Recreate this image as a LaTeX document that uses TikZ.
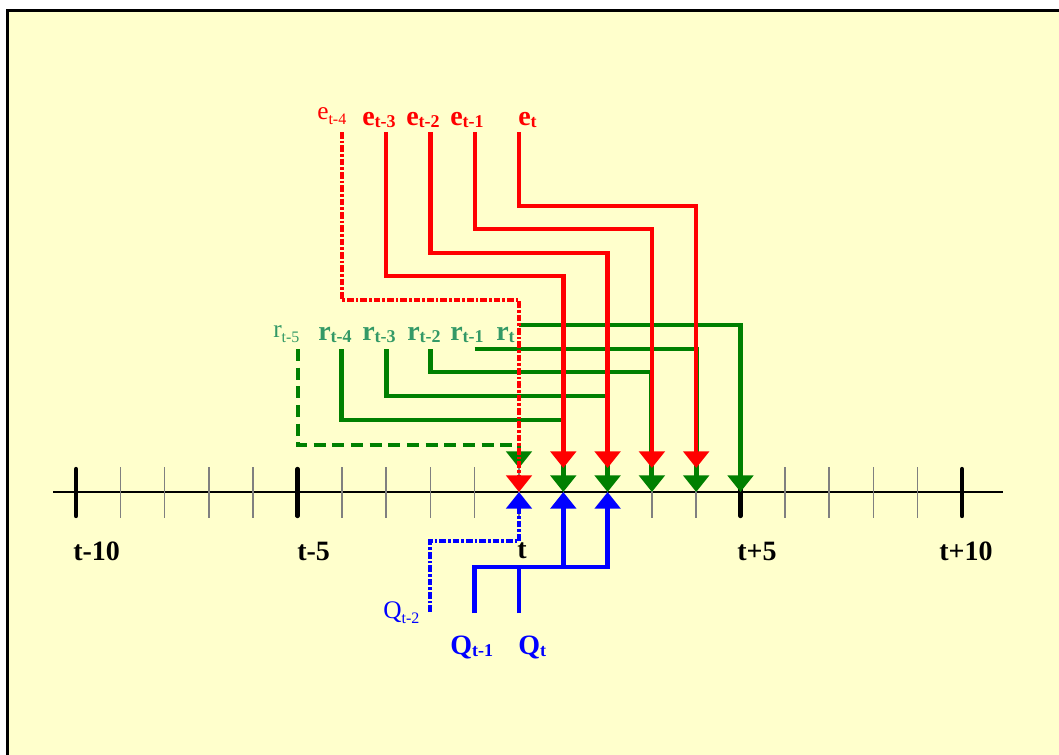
\documentclass[tikz,border=0pt]{standalone}
\usepackage{fontspec}
\setmainfont{Liberation Serif}
\usetikzlibrary{arrows.meta}

\definecolor{paper}{RGB}{255,255,204}
\definecolor{rlabel}{RGB}{51,153,102}
\definecolor{rline}{RGB}{0,128,0}

\newcommand\subbold[1]{\raisebox{-1.5pt}{\fontsize{13.5}{13.5}\selectfont #1}}
\newcommand\subthin[1]{\raisebox{-4pt}{\fontsize{12}{12}\selectfont #1}}

\tikzset{
  lab/.style={font=\bfseries\fontsize{21}{24}\selectfont, inner sep=0pt, anchor=base},
  labthin/.style={font=\fontsize{19}{22}\selectfont, inner sep=0pt, anchor=base west},
  redline/.style={draw=red, line width=3.3pt},
  greenline/.style={draw=rline, line width=3.7pt},
  blueline/.style={draw=blue, line width=3.7pt},
  dashdotline/.style={line width=3pt, dash pattern=on 5pt off 1.5pt on 2pt off 1.5pt},
  pointer/.style={-{Triangle[length=12.5pt,width=19pt]}},
}

\begin{document}
\begin{tikzpicture}[x=0.75pt,y=-0.75pt]
\useasboundingbox (0,0) rectangle (1059,754);
\clip (0,0) rectangle (1059,754);
\fill[white] (0,0) rectangle (1059,754);
\draw[line width=2.3pt,fill=paper] (7.5,10.5) rectangle (1080,780);

% time axis
\draw[line width=1.5pt] (53,492) -- (1003,492);
\foreach \k in {-9,...,9}
  \draw[gray, line width=1.1pt] ({519+44.3*\k},467) -- ({519+44.3*\k},518);
\foreach \k in {-10,-5,5,10}
  \draw[line width=3.3pt, line cap=round] ({519+44.3*\k},469) -- ({519+44.3*\k},516);
\foreach \k in {0,...,5} {
  \coordinate (a\k) at ({519+44.3*\k},492);
  \coordinate (u\k) at ({519+44.3*\k},468);
}
\node[lab, anchor=base west] (tm10) at (73,560) {t-10};
\node[lab, anchor=base west] (tm5) at (297,560) {t-5};
\node[lab] (t0) at (522,558) {t};
\node[lab, anchor=base west] (tp5) at (737,560) {t+5};
\node[lab, anchor=base west] (tp10) at (939,560) {t+10};

% labels
\node[labthin, red] (e4) at (317,119) {e\subthin{t-4}};
\node[lab, red, anchor=base west] (e3) at (362,125) {e\subbold{t-3}};
\node[lab, red, anchor=base west] (e2) at (406,125) {e\subbold{t-2}};
\node[lab, red, anchor=base west] (e1) at (450,125) {e\subbold{t-1}};
\node[lab, red, anchor=base west] (e0) at (518,125) {e\subbold{t}};

\node[labthin, rlabel] (r5) at (273,337) {r\subthin{t-5}};
\node[lab, rlabel, anchor=base west] (r4) at (318,340) {r\subbold{t-4}};
\node[lab, rlabel, anchor=base west] (r3) at (362,340) {r\subbold{t-3}};
\node[lab, rlabel, anchor=base west] (r2) at (407,340) {r\subbold{t-2}};
\node[lab, rlabel, anchor=base west] (r1) at (450,340) {r\subbold{t-1}};
\node[lab, rlabel, anchor=base west] (r0) at (496,340) {r\subbold{t}};

\node[labthin, blue] (q2) at (383,618) {Q\subthin{t-2}};
\node[lab, blue, anchor=base west] (q1) at (450,654) {Q\subbold{t-1}};
\node[lab, blue, anchor=base west] (q0) at (518,654) {Q\subbold{t}};

% line starts
\coordinate (e4s) at (341.8,132);
\coordinate (e3s) at (386.1,132);
\coordinate (e2s) at (430.4,132);
\coordinate (e1s) at (474.7,132);
\coordinate (e0s) at (519,132);
\coordinate (r5s) at (297.5,349);
\coordinate (r4s) at (341.8,349);
\coordinate (r3s) at (386.1,349);
\coordinate (r2s) at (430.4,349);
\coordinate (r1s) at (474.7,349);
\coordinate (r0s) at (519,325);
\coordinate (q2s) at (430.4,612);
\coordinate (q1s) at (474.7,613);
\coordinate (q0s) at (519,613);

% r flows
\draw[greenline, pointer] (r0s) -| (a5);
\draw[greenline, pointer] (r1s) -| (a4);
\draw[greenline, pointer] (r2s) -- ++(0,23) -| (a3);
\draw[greenline, pointer] (r3s) -- ++(0,47) -| (a2);
\draw[greenline, pointer] (r4s) -- ++(0,71) -| (a1);
\draw[greenline, pointer, line width=3pt, dash pattern=on 9pt off 5pt] (r5s) -- ++(0,96) -| (u0);

% e flows
\draw[redline, pointer] (e0s) -- ++(0,74) -| (u4);
\draw[redline, pointer] (e1s) -- ++(0,97) -| (u3);
\draw[redline, pointer] (e2s) -- ++(0,121) -| (u2);
\draw[redline, pointer] (e3s) -- ++(0,144) -| (u1);
\draw[redline, dashdotline, pointer] (e4s) -- ++(0,168) -| (a0);

% Q flows
\draw[blueline, dashdotline, pointer] (q2s) -- ++(0,-71) -| (a0);
\draw[blueline] (q0s) -- ++(0,-46) coordinate (qbus);
\draw[blueline, pointer] (q1s) -- ++(0,-46) -| (a2);
\draw[blueline, pointer] (qbus -| a1) -- (a1);
\end{tikzpicture}
\end{document}
